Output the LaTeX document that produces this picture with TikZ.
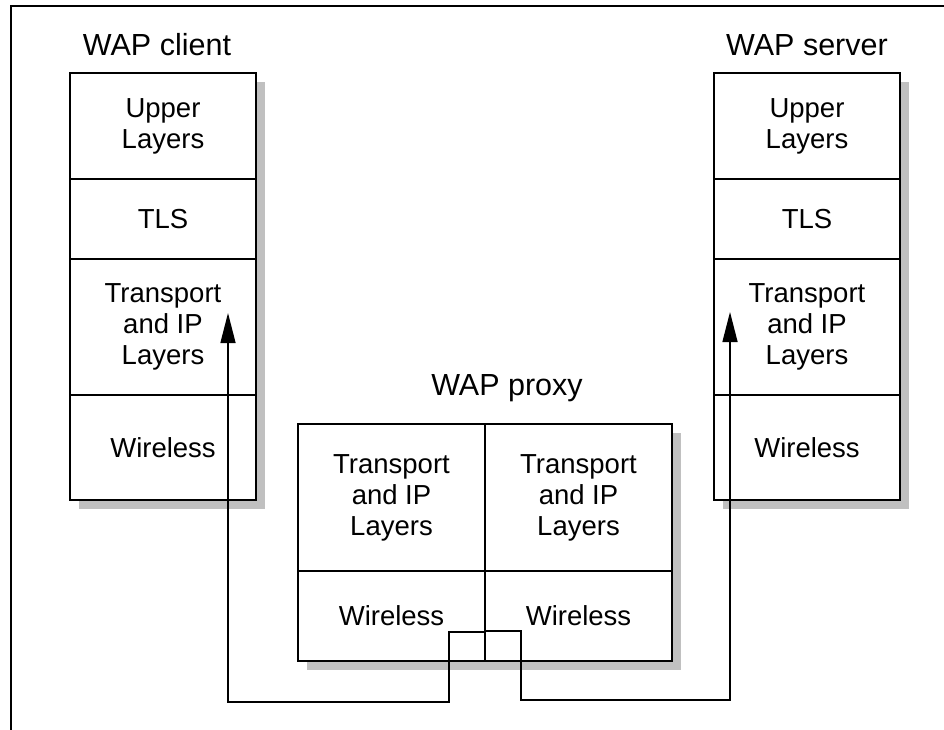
\documentclass[tikz,border=0pt]{standalone}
\usepackage{fontspec}
\setmainfont{Liberation Sans}
\usetikzlibrary{arrows.meta,positioning,backgrounds}
\definecolor{shadegray}{RGB}{192,192,192}
\tikzset{
  layer/.style={draw, line width=1.6pt, fill=white, minimum width=186pt, inner sep=0pt,
                outer sep=0pt, align=center, font=\fontsize{27.5}{31}\selectfont},
  ttl/.style={font=\fontsize{30.5}{35}\selectfont, inner sep=0pt, anchor=base},
  shade/.style={fill=shadegray},
  link/.style={-{Triangle[length=30pt,width=15pt]}, line width=1.4pt},
}
\begin{document}
\begin{tikzpicture}[x=1pt, y=1pt, node distance=0pt]
  \useasboundingbox (0,0) rectangle (944,-730);
  % frame
  \draw[line width=1.2pt] (11,-730) -- (11,-6) -- (944,-6);

  % WAP client stack
  \node[layer, minimum height=106pt, anchor=north west] (cu) at (70,-73) {Upper\\Layers};
  \node[layer, minimum height=80pt, below=of cu] (ct) {TLS};
  \node[layer, minimum height=136pt, below=of ct] (cp) {Transport\\and IP\\Layers};
  \node[layer, minimum height=105pt, below=of cp] (cw) {Wireless};
  \node[ttl] (cl) at ([xshift=-6pt,yshift=17pt]cu.north) {WAP client};

  % WAP server stack
  \node[layer, minimum height=106pt, anchor=north west] (su) at (714,-73) {Upper\\Layers};
  \node[layer, minimum height=80pt, below=of su] (st) {TLS};
  \node[layer, minimum height=136pt, below=of st] (sp) {Transport\\and IP\\Layers};
  \node[layer, minimum height=105pt, below=of sp] (sw) {Wireless};
  \node[ttl] (sl) at ([yshift=17pt]su.north) {WAP server};

  % WAP proxy
  \node[layer, minimum width=187pt, minimum height=147pt, anchor=north west] (pt1) at (298,-424) {Transport\\and IP\\Layers};
  \node[layer, minimum width=187pt, minimum height=147pt, right=of pt1] (pt2) {Transport\\and IP\\Layers};
  \node[layer, minimum width=187pt, minimum height=90pt, below=of pt1] (pw1) {Wireless};
  \node[layer, minimum width=187pt, minimum height=90pt, below=of pt2] (pw2) {Wireless};
  \node[ttl] (pl) at ([xshift=22pt,yshift=29pt]pt1.north east) {WAP proxy};

  % shadows
  \begin{scope}[on background layer]
    \fill[shade] ([shift={(9,-9)}]cu.north west) rectangle ([shift={(9,-9)}]cw.south east);
    \fill[shade] ([shift={(9,-9)}]su.north west) rectangle ([shift={(9,-9)}]sw.south east);
    \fill[shade] ([shift={(9,-9)}]pt1.north west) rectangle ([shift={(9,-9)}]pw2.south east);
  \end{scope}

  % links
  \coordinate (jl) at ([yshift=29pt]pw1.south east);
  \coordinate (jr) at ([yshift=30pt]pw2.south west);
  \coordinate (ctip) at ([xshift=-28pt,yshift=-54pt]cp.north east);
  \coordinate (stip) at ([xshift=16pt,yshift=-53pt]sp.north west);
  \draw[link] (jl) -- ++(-36,0) -- ++(0,-70) -| (ctip);
  \draw[link] (jr) -- ++(36,0) -- ++(0,-69) -| (stip);
\end{tikzpicture}
\end{document}
